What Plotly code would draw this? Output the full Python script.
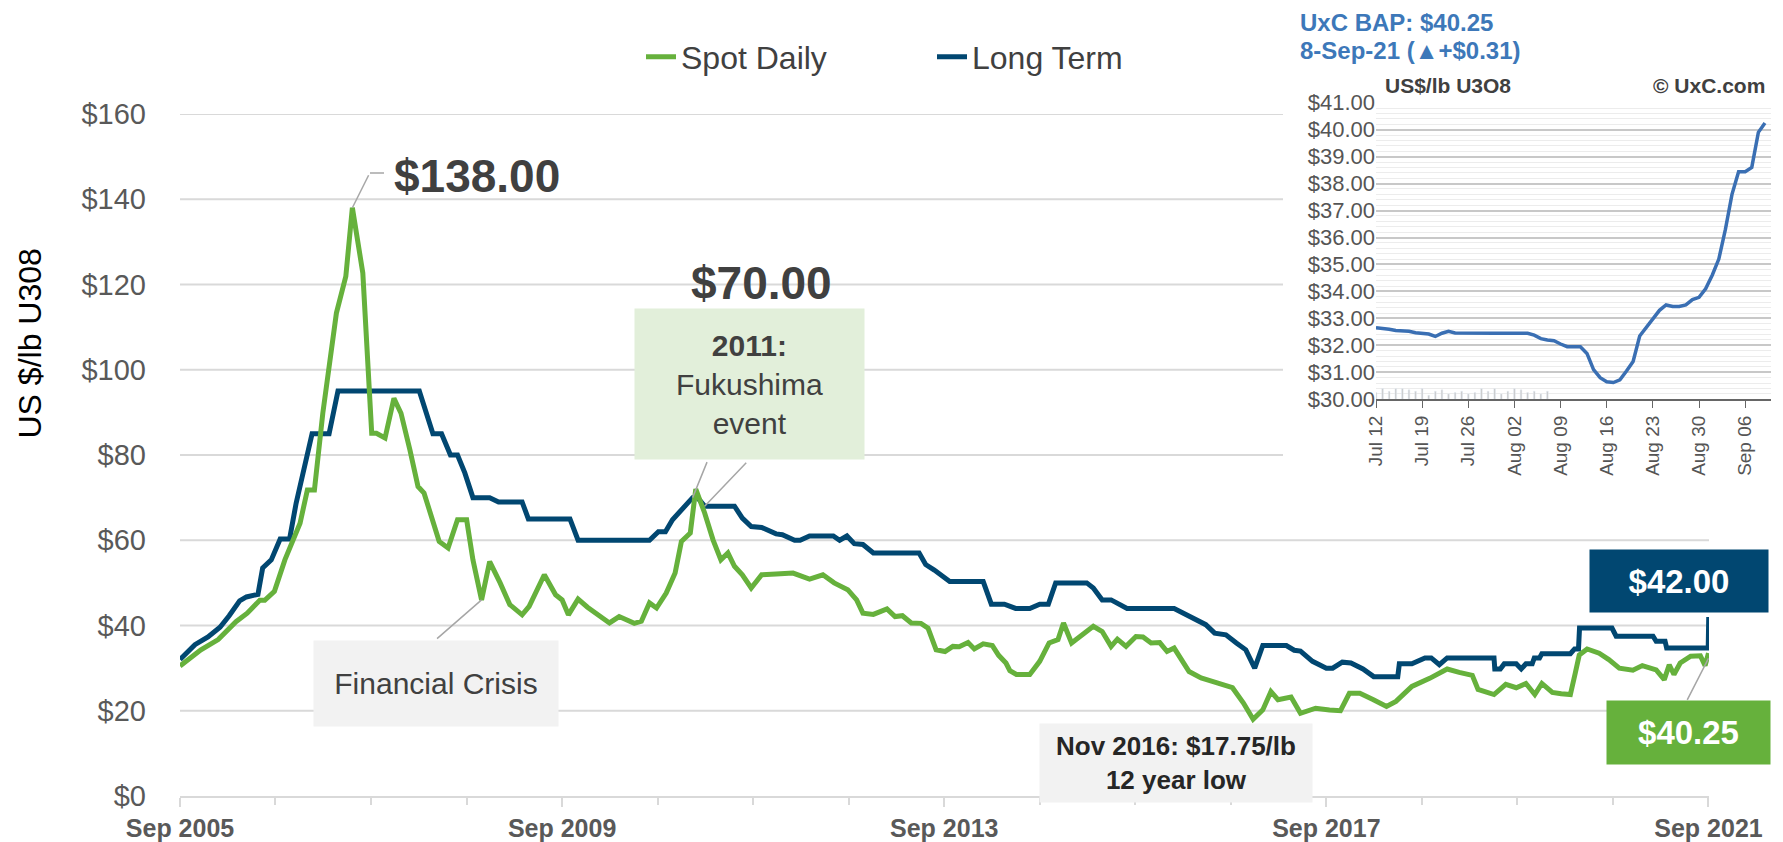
import plotly.graph_objects as go

# ---------------- data ----------------
spot_dates = ["2005-09-01","2005-11-20","2006-01-25","2006-04-03","2006-05-16","2006-07-03","2006-07-22","2006-08-28",
    "2006-10-07","2006-11-10","2006-12-04","2007-01-01","2007-01-28","2007-03-01","2007-03-25","2007-04-22","2007-05-28",
    "2007-06-22","2007-08-01","2007-09-04","2007-09-22","2007-10-25","2007-11-28","2007-12-25","2008-01-28","2008-02-28",
    "2008-03-22","2008-04-25","2008-05-19","2008-06-22","2008-07-28","2008-09-01","2008-09-25","2008-10-28","2008-11-28",
    "2009-01-07","2009-02-13","2009-04-01","2009-04-28","2009-06-25","2009-08-07","2009-09-01","2009-09-25","2009-11-01",
    "2009-12-07","2010-02-13","2010-03-01","2010-04-07","2010-06-04","2010-07-01","2010-08-01","2010-08-28","2010-10-04",
    "2010-11-07","2010-12-01","2011-01-04","2011-01-25","2011-02-28","2011-04-01","2011-05-01","2011-05-28","2011-06-22",
    "2011-07-22","2011-08-25","2011-10-04","2011-11-28","2012-02-01","2012-04-04","2012-05-25","2012-07-07","2012-08-28",
    "2012-10-01","2012-10-25","2012-12-04","2013-01-25","2013-02-25","2013-03-25","2013-04-28","2013-06-04","2013-07-01",
    "2013-08-01","2013-09-04","2013-10-04","2013-10-28","2013-12-01","2013-12-25","2014-01-28","2014-03-04","2014-03-28",
    "2014-04-25","2014-05-10","2014-06-04","2014-07-25","2014-09-01","2014-10-07","2014-11-10","2014-12-01","2015-01-01",
    "2015-02-01","2015-03-25","2015-04-28","2015-06-01","2015-06-25","2015-07-28","2015-09-04","2015-10-01","2015-11-01",
    "2015-12-04","2016-01-01","2016-01-28","2016-03-25","2016-05-10","2016-06-22","2016-08-13","2016-09-07","2016-10-19",
    "2016-11-25","2017-01-01","2017-02-01","2017-02-28","2017-04-19","2017-05-25","2017-07-22","2017-09-13","2017-10-25",
    "2017-11-28","2018-01-07","2018-02-28","2018-04-19","2018-05-25","2018-07-25","2018-10-01","2018-12-07","2019-01-22",
    "2019-03-13","2019-04-04","2019-06-04","2019-07-19","2019-08-28","2019-10-04","2019-11-07","2019-12-04","2020-01-13",
    "2020-02-16","2020-03-22","2020-04-10","2020-04-25","2020-05-25","2020-07-10","2020-08-16","2020-09-25","2020-11-16",
    "2020-12-22","2021-02-13","2021-03-16","2021-04-04","2021-04-22","2021-05-16","2021-06-25","2021-08-01","2021-08-19",
    "2021-09-01"]
spot_prices = [30.5,34.3,36.7,40.9,42.9,45.9,45.9,48.0,
    55.4,60.9,64.0,71.8,71.8,89.8,100.8,113.3,121.9,
    138.0,122.7,85.1,85.1,84.0,93.3,89.8,81.2,72.6,
    71.1,64.0,59.7,58.2,64.8,64.8,55.4,46.0,55.0,
    50.0,44.9,42.5,44.5,51.9,47.2,46.0,42.5,46.2,
    44.3,41.3,40.6,42.1,40.5,41.0,45.3,44.1,47.6,
    52.3,59.7,61.7,72.0,66.4,60.1,55.4,57.0,53.9,
    51.9,48.8,51.9,52.1,52.3,50.9,51.9,50.0,48.4,
    46.0,42.9,42.6,43.9,42.1,42.3,40.6,40.5,39.4,
    34.3,33.9,35.1,35.0,36.0,34.5,35.7,35.3,33.0,
    31.2,29.4,28.5,28.5,31.6,35.9,36.7,40.6,35.9,
    37.4,39.8,38.6,35.1,36.8,35.1,37.4,37.3,35.9,
    36.0,33.9,34.7,29.2,27.7,26.9,25.9,25.4,21.8,
    18.0,20.2,24.5,22.6,23.2,19.4,20.6,20.2,20.0,
    24.1,24.1,22.6,21.0,22.2,25.7,27.6,29.8,29.0,
    28.3,25.0,23.8,26.2,25.4,26.4,23.8,26.4,24.3,
    24.0,23.8,28.9,33.1,34.5,33.5,32.0,30.0,29.5,
    30.6,29.6,27.3,30.8,28.5,31.2,32.8,32.9,30.6,
    33.5]

lt_dates = ["2005-09-01","2005-10-28","2005-12-17","2006-02-01","2006-03-08","2006-04-17","2006-05-13","2006-06-26",
    "2006-07-14","2006-08-16","2006-09-19","2006-10-25","2006-11-19","2006-12-16","2007-01-19","2007-03-25","2007-04-28",
    "2008-03-04","2008-04-25","2008-05-28","2008-07-01","2008-07-28","2008-08-25","2008-09-25","2008-11-28","2009-01-01",
    "2009-04-01","2009-04-25","2009-10-01","2009-11-01","2010-08-01","2010-09-04","2010-10-01","2010-10-28","2010-12-07",
    "2011-01-13","2011-02-01","2011-02-28","2011-06-22","2011-07-22","2011-08-25","2011-10-04","2011-11-28","2011-12-22",
    "2012-02-07","2012-02-28","2012-04-04","2012-07-04","2012-07-28","2012-08-25","2012-09-22","2012-10-25","2012-12-04",
    "2013-05-28","2013-06-22","2013-07-25","2013-09-22","2014-01-28","2014-02-28","2014-04-19","2014-06-01","2014-07-25",
    "2014-09-01","2014-10-04","2014-11-01","2015-02-28","2015-03-25","2015-04-28","2015-06-01","2015-08-01","2016-01-28",
    "2016-03-25","2016-05-28","2016-07-01","2016-08-13","2016-09-22","2016-10-28","2016-12-01","2017-01-01","2017-04-01",
    "2017-05-01","2017-05-25","2017-07-10","2017-09-01","2017-09-25","2017-11-01","2017-12-04","2018-01-19","2018-03-01",
    "2018-06-01","2018-06-07","2018-07-25","2018-09-13","2018-10-07","2018-11-07","2018-12-07","2019-06-04","2019-06-07",
    "2019-06-28","2019-07-13","2019-08-28","2019-09-16","2019-10-04","2019-10-28","2019-11-05","2019-11-25","2019-12-04",
    "2020-03-22","2020-04-07","2020-04-22","2020-04-26","2020-08-28","2020-09-13","2021-02-01","2021-02-13","2021-03-19",
    "2021-03-25","2021-08-31","2021-09-02"]
lt_prices = [32.0,35.5,37.3,39.6,42.3,45.8,46.7,47.3,
    53.5,55.4,60.3,60.3,68.7,75.4,85.0,85.0,95.0,
    95.0,85.0,85.0,80.0,80.0,75.8,70.0,70.0,69.0,
    69.0,65.0,65.0,60.0,60.0,62.0,62.0,64.8,67.6,
    70.0,70.0,68.0,68.0,65.2,63.2,63.0,61.5,61.3,
    60.0,60.0,61.0,61.0,60.0,61.0,59.2,59.0,57.0,
    57.0,54.3,53.0,50.3,50.3,45.0,45.0,44.0,44.0,
    45.0,45.0,50.0,50.0,48.8,46.0,46.0,44.0,44.0,
    42.1,40.2,38.2,37.8,35.9,34.3,30.0,35.3,35.3,
    34.2,34.0,31.6,30.0,30.0,31.4,31.2,29.8,28.0,
    28.0,31.0,31.0,32.4,32.4,30.8,32.4,32.4,29.8,
    29.8,31.0,31.0,29.8,31.0,31.0,32.4,32.4,33.4,
    33.4,34.5,34.5,39.4,39.4,37.5,37.5,36.3,36.3,
    34.75,34.75,42.0]

# inset: UxC Broker Average Price, daily
bap_dates = ["2021-07-12","2021-07-13","2021-07-14","2021-07-15","2021-07-16","2021-07-17","2021-07-18","2021-07-19",
    "2021-07-20","2021-07-21","2021-07-22","2021-07-23","2021-07-24","2021-07-30","2021-08-04","2021-08-05","2021-08-06",
    "2021-08-07","2021-08-08","2021-08-09","2021-08-10","2021-08-11","2021-08-12","2021-08-13","2021-08-14","2021-08-15",
    "2021-08-16","2021-08-17","2021-08-18","2021-08-19","2021-08-20","2021-08-21","2021-08-22","2021-08-23","2021-08-24",
    "2021-08-25","2021-08-26","2021-08-27","2021-08-28","2021-08-29","2021-08-30","2021-08-31","2021-09-01","2021-09-02",
    "2021-09-03","2021-09-04","2021-09-05","2021-09-06","2021-09-07","2021-09-08","2021-09-09"]
bap_prices = [32.65,32.64,32.60,32.55,32.55,32.52,32.47,32.45,
    32.42,32.33,32.45,32.52,32.46,32.45,32.45,32.38,32.25,
    32.20,32.17,32.05,31.95,31.95,31.95,31.70,31.10,30.80,
    30.65,30.62,30.72,31.05,31.40,32.35,32.65,32.95,33.30,
    33.50,33.44,33.44,33.50,33.70,33.78,34.10,34.60,35.20,
    36.30,37.60,38.44,38.44,38.60,39.90,40.25]
vol_dates = ["2021-07-12","2021-07-13","2021-07-14","2021-07-15","2021-07-16","2021-07-17","2021-07-18","2021-07-19",
    "2021-07-20","2021-07-21","2021-07-22","2021-07-23","2021-07-24","2021-07-25","2021-07-26","2021-07-27","2021-07-28",
    "2021-07-29","2021-07-30","2021-07-31","2021-08-01","2021-08-02","2021-08-03","2021-08-04","2021-08-05","2021-08-06",
    "2021-08-07"]
vol_heights = [0.25,0.40,0.30,0.40,0.40,0.35,0.30,0.40,0.15,0.30,0.35,0.20,0.25,0.30,0.20,0.25,0.40,
    0.30,0.40,0.20,0.30,0.40,0.35,0.25,0.30,0.20,0.30]

main_ticks = [0, 20, 40, 60, 80, 100, 120, 140, 160]
x_tick_dates = ["2005-09-01", "2009-09-01", "2013-09-01", "2017-09-01", "2021-09-01"]
x_tick_labels = ["Sep 2005", "Sep 2009", "Sep 2013", "Sep 2017", "Sep 2021"]
inset_ticks = [30, 31, 32, 33, 34, 35, 36, 37, 38, 39, 40, 41]
inset_x_dates = ["2021-07-12","2021-07-19","2021-07-26","2021-08-02","2021-08-09","2021-08-16","2021-08-23","2021-08-30","2021-09-06"]
inset_x_labels = ["Jul 12","Jul 19","Jul 26","Aug 02","Aug 09","Aug 16","Aug 23","Aug 30","Sep 06"]

# ---------------- style ----------------
W, H = 1783, 842
GREEN = "#66B13C"
NAVY = "#014771"
BLUE = "#3A6FB3"
GRID = "#D9D9D9"
FONT = "Liberation Sans, Arial, sans-serif"

def px(x):
    return x / W

def py(y):
    return 1 - y / H

fig = go.Figure()
fig.add_trace(go.Scatter(x=lt_dates, y=lt_prices, name="Long Term", mode="lines",
                         line=dict(color=NAVY, width=5), xaxis="x", yaxis="y"))
fig.add_trace(go.Scatter(x=spot_dates, y=spot_prices, name="Spot Daily", mode="lines",
                         line=dict(color=GREEN, width=5), xaxis="x", yaxis="y"))
fig.add_trace(go.Bar(x=vol_dates, y=vol_heights, base=30, width=22000000, marker=dict(color="#C8C8C8"),
                     showlegend=False, xaxis="x2", yaxis="y2", hoverinfo="skip"))
fig.add_trace(go.Scatter(x=bap_dates, y=bap_prices, mode="lines", line=dict(color=BLUE, width=3.5),
                         showlegend=False, xaxis="x2", yaxis="y2", name="UxC BAP"))

shapes = []
for v in main_ticks:
    if v == 0:
        continue
    x_end = 1709 if v <= 60 else 1283
    shapes.append(dict(type="line", xref="paper", yref="y", x0=px(180), x1=px(x_end), y0=v, y1=v,
                       line=dict(color=GRID, width=2), layer="below"))
# short horizontal part of the $138 leader
shapes.append(dict(type="line", xref="paper", yref="paper", x0=px(370), x1=px(384), y0=py(173), y1=py(173),
                   line=dict(color="#A6A6A6", width=1.5)))

ann = []
def leader(xd, yd, ax, ay):
    ann.append(dict(x=xd, y=yd, xref="x", yref="y", text="", showarrow=True, arrowhead=0,
                    arrowwidth=1.5, arrowcolor="#A6A6A6", ax=ax, ay=ay, standoff=0, startstandoff=0))

leader("2007-06-22", 138, 17, -34)
leader("2008-10-28", 46, -46, 40)
leader("2011-01-13", 70, 15, -37)
leader("2011-02-28", 68, 43, -45)
leader("2021-09-01", 32.3, -22, 43)

def box(xc, yc, text, w, h, bg, size, color):
    ann.append(dict(x=px(xc), y=py(yc), xref="paper", yref="paper", xanchor="center", yanchor="middle",
                    text=text, showarrow=False,
                    width=w, height=h, bgcolor=bg, borderpad=0, align="center", valign="middle",
                    font=dict(family=FONT, size=size, color=color)))

box(477, 176, "<b>$138.00</b>", None, None, None, 46, "#404040")
box(761, 283, "<b>$70.00</b>", None, None, None, 46, "#404040")
box(749.5, 384, "<b>2011:</b><br>Fukushima<br>event", 229, 150, "#E2EFDA", 30, "#404040")
box(436, 683.5, "Financial Crisis", 244, 85, "#F2F2F2", 30, "#404040")
box(1176, 763, "<b>Nov 2016: $17.75/lb<br>12 year low</b>", 272, 78, "#F2F2F2", 26, "#262626")
box(1679, 581, "<b>$42.00</b>", 178, 62, NAVY, 33, "white")
box(1688.5, 732, "<b>$40.25</b>", 163, 63, GREEN, 33, "white")

# y-axis title
ann.append(dict(x=px(29.5), y=py(344), xref="paper", yref="paper", xanchor="center", yanchor="middle",
                text="US $/lb U308", textangle=-90,
                showarrow=False, font=dict(family=FONT, size=32, color="#000000")))
# inset header texts
ann.append(dict(x=px(1298), y=py(23), xref="paper", yref="paper", xanchor="left", yanchor="middle",
                text="<b>UxC BAP: $40.25</b>",
                showarrow=False, font=dict(family=FONT, size=24, color="#3D78B9")))
ann.append(dict(x=px(1298), y=py(51), xref="paper", yref="paper", xanchor="left", yanchor="middle",
                text="<b>8-Sep-21 (▲+$0.31)</b>",
                showarrow=False, font=dict(family=FONT, size=24, color="#3D78B9")))
ann.append(dict(x=px(1383), y=py(85), xref="paper", yref="paper", xanchor="left", yanchor="middle",
                text="<b>US$/lb U3O8</b>",
                showarrow=False, font=dict(family=FONT, size=21, color="#404040")))
ann.append(dict(x=px(1767), y=py(85), xref="paper", yref="paper", xanchor="right", yanchor="middle",
                text="<b>© UxC.com</b>",
                showarrow=False, font=dict(family=FONT, size=21, color="#404040")))

fig.update_layout(
    width=W, height=H, margin=dict(l=0, r=0, t=0, b=0, pad=0, autoexpand=False),
    paper_bgcolor="white", plot_bgcolor="rgba(0,0,0,0)",
    font=dict(family=FONT),
    showlegend=True,
    legend=dict(orientation="h", x=px(641), y=py(57), xanchor="left", yanchor="middle",
                traceorder="reversed", entrywidth=246, font=dict(family=FONT, size=32, color="#404040"),
                bgcolor="rgba(0,0,0,0)"),
    xaxis=dict(domain=[px(180), px(1709)], anchor="y", type="date", automargin=False,
               range=["2005-09-01", "2021-09-03"],
               tickvals=x_tick_dates, ticktext=["<b>%s</b>" % t for t in x_tick_labels],
               tickfont=dict(family=FONT, size=25, color="#595959"),
               showgrid=False, zeroline=False, showline=True, linecolor=GRID, linewidth=2,
               ticks="outside", ticklen=9, tickwidth=2, tickcolor=GRID,
               minor=dict(dtick="M12", tick0="2005-09-01", ticks="outside", ticklen=7, tickwidth=2, tickcolor=GRID)),
    yaxis=dict(domain=[py(796), py(114)], anchor="x", range=[0, 160], automargin=False,
               tickvals=main_ticks, ticktext=["$%d" % v for v in main_ticks],
               tickfont=dict(family=FONT, size=29, color="#595959"),
               showgrid=False, zeroline=False, showline=False, ticks="", ticklabelstandoff=33),
    xaxis2=dict(domain=[px(1376), px(1771)], anchor="y2", type="date", automargin=False,
                range=["2021-07-12", "2021-09-09 22:00"],
                tickvals=inset_x_dates, ticktext=inset_x_labels, tickangle=-90,
                tickfont=dict(family=FONT, size=19, color="#555555"),
                showgrid=False, zeroline=False, showline=True, linecolor="#666666", linewidth=1.5,
                ticks="outside", ticklen=7, tickcolor="#666666"),
    yaxis2=dict(domain=[py(399.3), py(102.7)], anchor="x2", range=[30, 41], automargin=False,
                tickvals=inset_ticks, ticktext=["$%.2f" % v for v in inset_ticks],
                tickfont=dict(family=FONT, size=22, color="#555555"),
                showgrid=True, gridcolor="#C8C8C8", gridwidth=1.5, zeroline=False, ticks="",
                minor=dict(dtick=0.2, showgrid=True, gridcolor="#ECECEC", gridwidth=1)),
    shapes=shapes, annotations=ann,
)

fig.write_html("out.html", config={"displayModeBar": False},
               post_script="document.body.style.margin='0px';")
